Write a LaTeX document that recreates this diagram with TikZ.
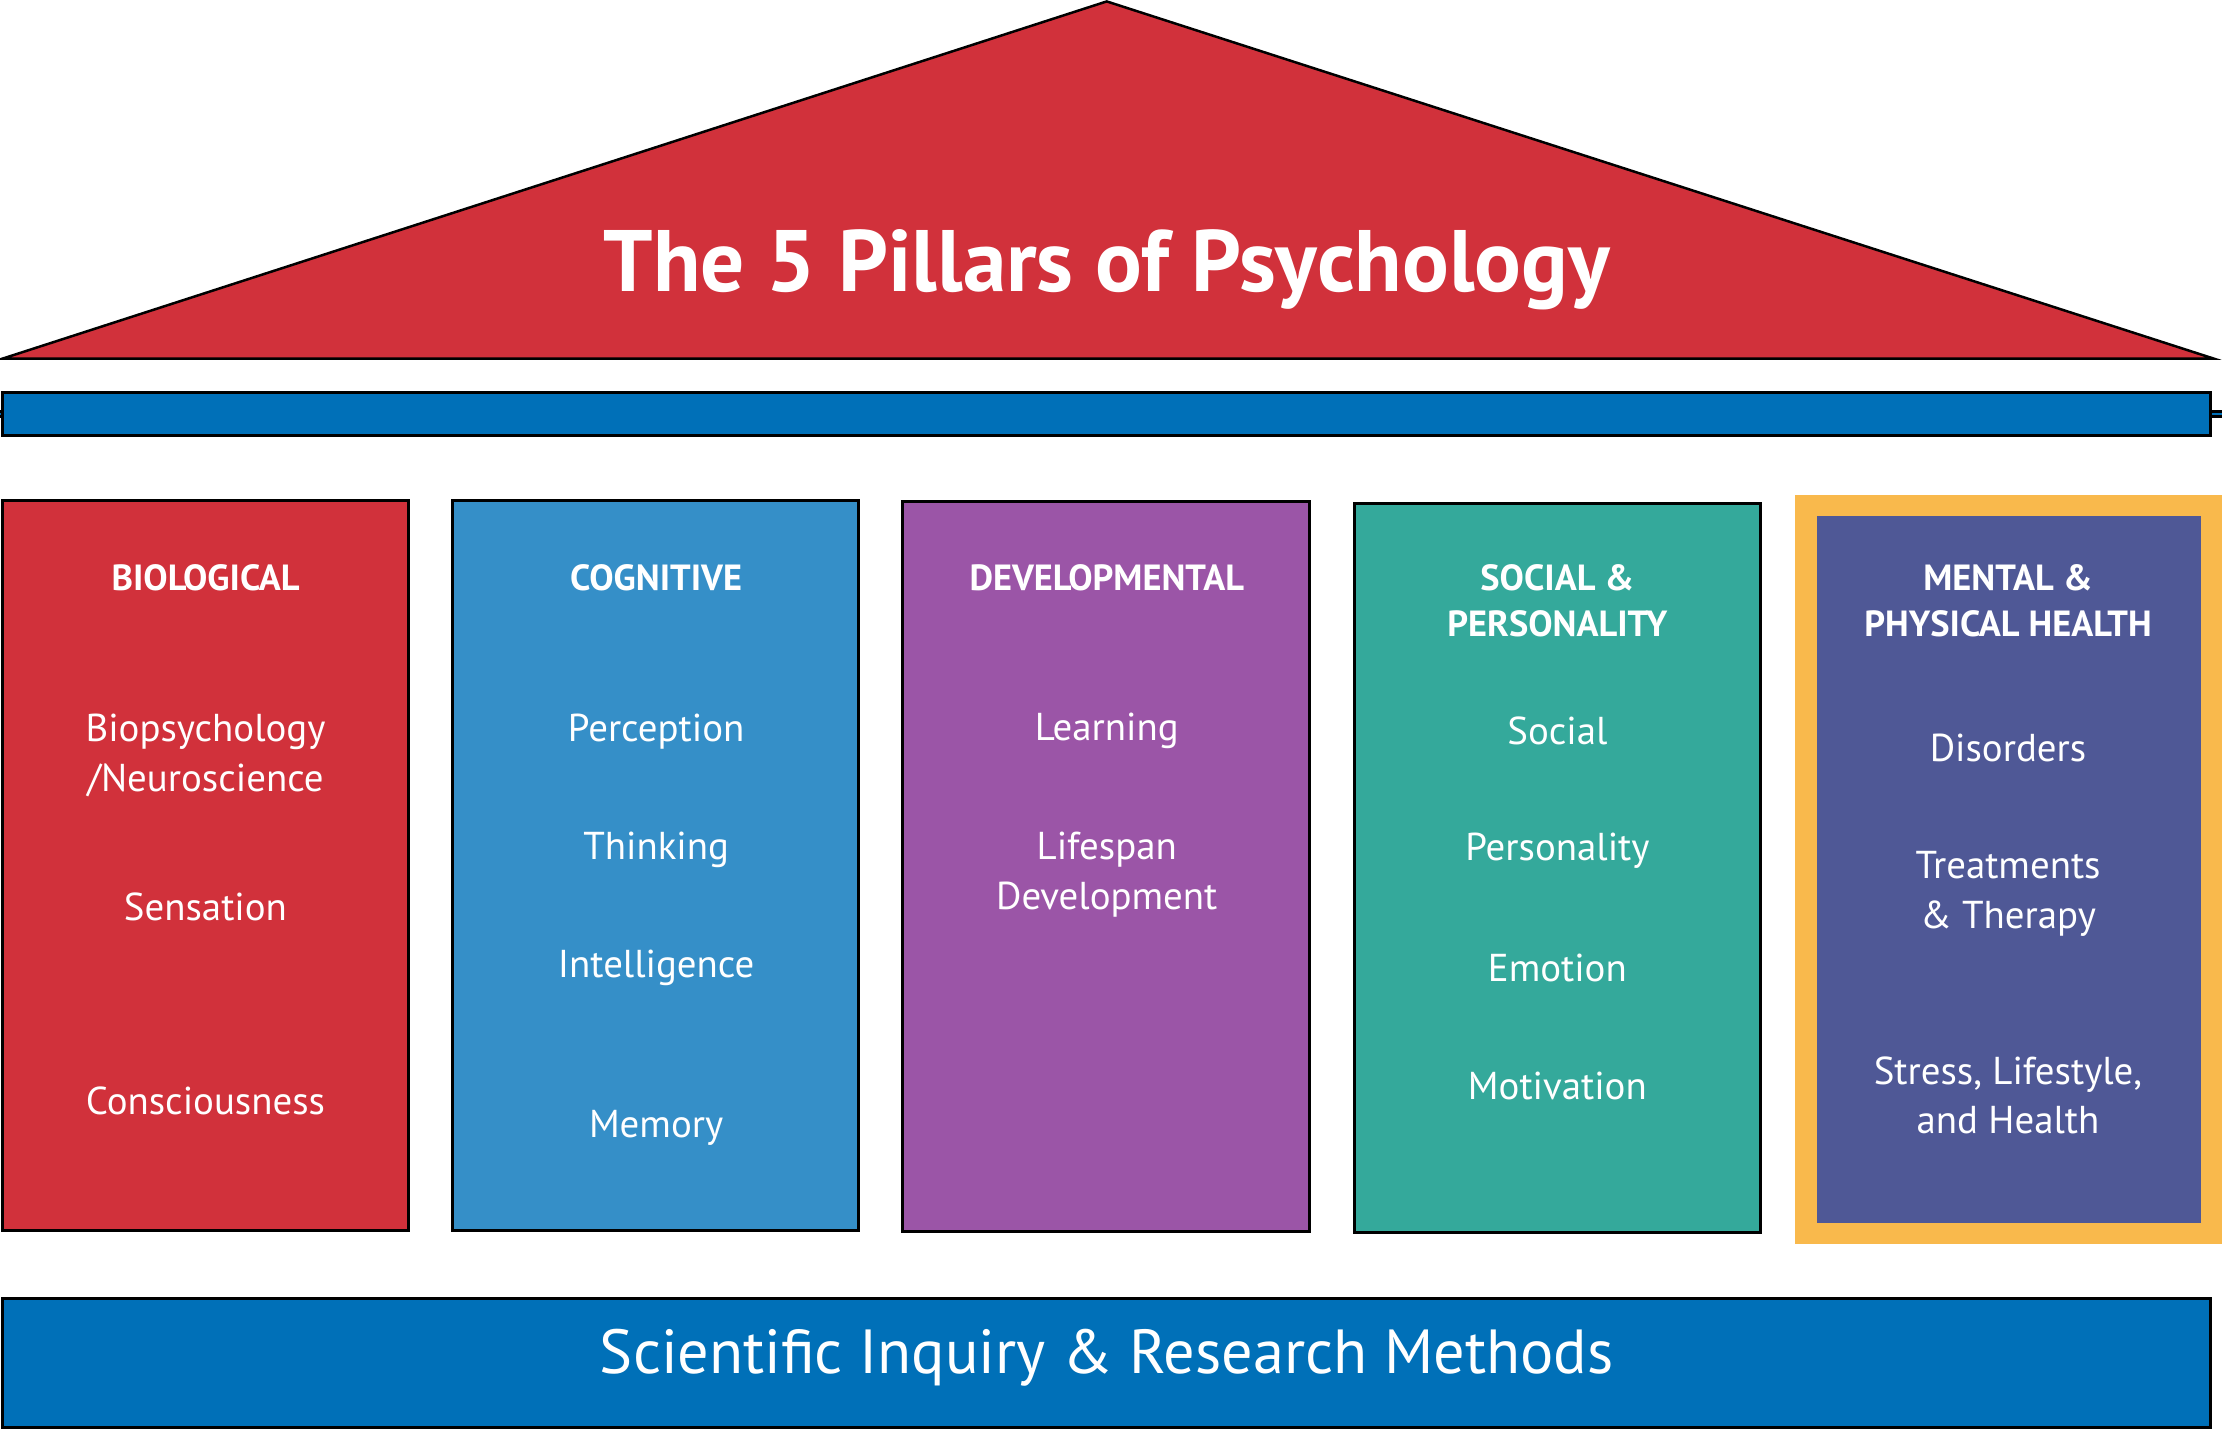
\documentclass[tikz,border=0pt]{standalone}
\usepackage{fontspec}
\setmainfont{PT Sans}
\definecolor{pred}{HTML}{D1313B}
\definecolor{pblue}{HTML}{0070B8}
\definecolor{lblue}{HTML}{358FC8}
\definecolor{ppurp}{HTML}{9B55A7}
\definecolor{pteal}{HTML}{34A99B}
\definecolor{pnavy}{HTML}{4F5896}
\definecolor{pyel}{HTML}{F9B94C}
\begin{document}
\begin{tikzpicture}[x=0.01cm,y=-0.01cm,
  pil/.style={draw=black,line width=0.6pt},
  hd/.style={text=white,font=\fontsize{7.3}{9.3}\selectfont\bfseries,align=center},
  it/.style={text=white,font=\fontsize{7.8}{10}\selectfont,align=center}]
\useasboundingbox (0,0) rectangle (1568,1009);
\fill[pred,draw=black,line width=0.5pt] (2,253) -- (781,1) -- (1562,253) -- cycle;
\node[text=white,font=\fontsize{17.5}{20}\selectfont\bfseries] (title) at (781,190) {The 5 Pillars of Psychology};
\node[pil,fill=pblue,minimum width=1558\pgflinewidth,inner sep=0] (beam) at (781,292) {};
\filldraw[pblue,draw=black,line width=0.6pt] (2,277) rectangle (1560,307);
\filldraw[pil,fill=pred] (2,353) rectangle (288,868);
\filldraw[pil,fill=lblue] (319,353) rectangle (606,868);
\filldraw[pil,fill=ppurp] (637,354) rectangle (924,869);
\filldraw[pil,fill=pteal] (956,355) rectangle (1242,870);
\fill[pyel] (1267,349) rectangle (1568,878);
\fill[pnavy] (1282,364) rectangle (1553,863);
\filldraw[pil,fill=pblue] (2,916) rectangle (1560,1007);
\node[text=white,font=\fontsize{12.5}{15}\selectfont] (base) at (781,958) {Scientific Inquiry \& Research Methods};
% biological
\node[hd] (h1) at (145,408) {BIOLOGICAL};
\node[it] (b1) at (145,533) {Biopsychology\\/Neuroscience};
\node[it] (b2) at (145,640) {Sensation};
\node[it] (b3) at (145,777) {Consciousness};
% cognitive
\node[hd] (h2) at (463,408) {COGNITIVE};
\node[it] (c1) at (463,516) {Perception};
\node[it] (c2) at (463,600) {Thinking};
\node[it] (c3) at (463,683) {Intelligence};
\node[it] (c4) at (463,796) {Memory};
% developmental
\node[hd] (h3) at (781,408) {DEVELOPMENTAL};
\node[it] (d1) at (781,516) {Learning};
\node[it] (d2) at (781,617) {Lifespan\\Development};
% social
\node[hd] (h4) at (1099,424) {SOCIAL \&\\PERSONALITY};
\node[it] (s1) at (1099,516) {Social};
\node[it] (s2) at (1099,600) {Personality};
\node[it] (s3) at (1099,683) {Emotion};
\node[it] (s4) at (1099,766) {Motivation};
% mental
\node[hd] (h5) at (1417,424) {MENTAL \&\\PHYSICAL HEALTH};
\node[it] (m1) at (1417,528) {Disorders};
\node[it] (m2) at (1417,631) {Treatments\\\& Therapy};
\node[it] (m3) at (1417,773) {Stress, Lifestyle,\\and Health};
\end{tikzpicture}
\end{document}
